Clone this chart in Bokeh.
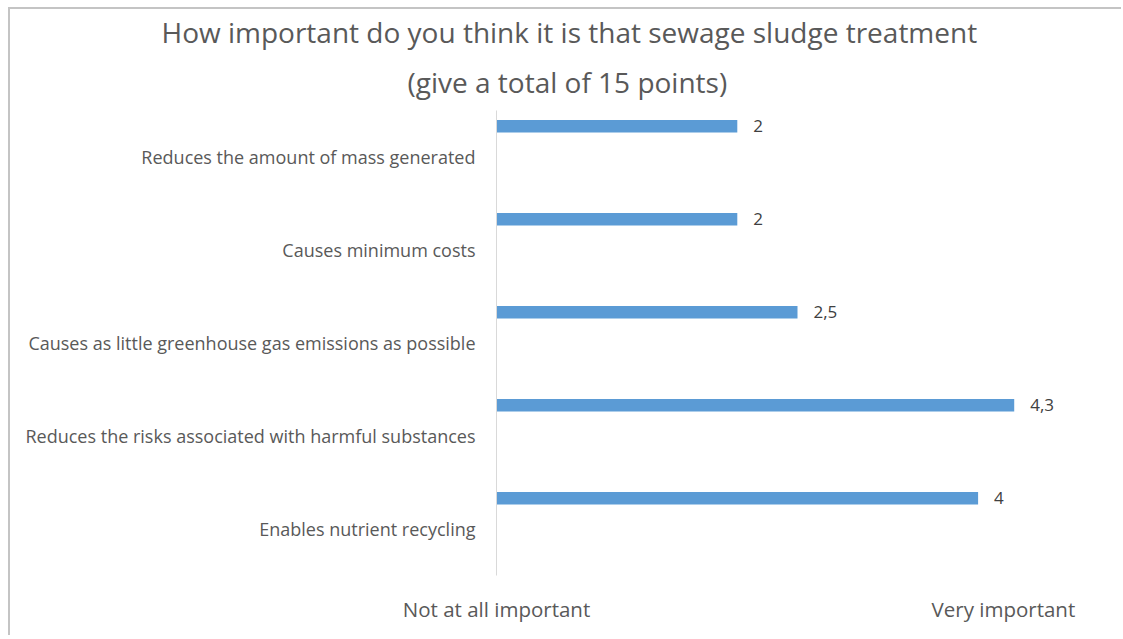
from bokeh.plotting import figure
from bokeh.models import ColumnDataSource, FactorRange, FixedTicker, Title, Range1d
from bokeh.transform import dodge
from bokeh.core.properties import value
from bokeh.embed import file_html
from bokeh.resources import INLINE

title_lines = ["How important do you think it is that sewage sludge treatment",
               "(give a total of 15 points)"]
categories = ["Reduces the amount of mass generated",
              "Causes minimum costs",
              "Causes as little greenhouse gas emissions as possible",
              "Reduces the risks associated with harmful substances",
              "Enables nutrient recycling"]
values = [2, 2, 2.5, 4.3, 4]
value_labels = ["2", "2", "2,5", "4,3", "4"]
scale_ticks = [0, 4.21]
scale_labels = ["Not at all important", "Very important"]

FONT = "Open Sans"
GREY = "#595959"
W, H = 1113, 628

src = ColumnDataSource(dict(cat=categories, val=values, lab=value_labels))

p = figure(width=W, height=H, output_backend="svg", toolbar_location=None,
           y_range=FactorRange(factors=categories[::-1]),
           x_range=Range1d(0, 5),
           min_border_left=486, min_border_right=25, min_border_top=101, min_border_bottom=62,
           title=None)
p.styles = {"border-top": "2px solid #c4c4c4", "border-left": "2px solid #c4c4c4",
            "margin-left": "8px", "margin-top": "7px"}

p.hbar(y=dodge("cat", 0.33, range=p.y_range), right="val", height=0.135, left=0,
       source=src, fill_color="#5b9bd5", line_color=None)
p.text(x="val", y=dodge("cat", 0.33, range=p.y_range), text="lab", source=src,
       x_offset=16, text_baseline="middle", text_align="left",
       text_font=value(FONT), text_font_size="17px", text_color="#404040")

# titles: left-aligned over the frame, shifted left so they are centred on the chart
for line, off, so in zip(reversed(title_lines), [-89, -335], [20, 0]):
    p.add_layout(Title(text=line, align="left", offset=off, standoff=so, text_font=FONT,
                       text_font_size="28px", text_font_style="normal",
                       text_color=GREY), "above")

p.xgrid.visible = False
p.ygrid.visible = False
p.outline_line_color = None
p.background_fill_color = "white"
p.border_fill_color = "white"

yax = p.yaxis[0]
yax.axis_line_color = "#d9d9d9"
yax.axis_line_width = 1
yax.major_tick_line_color = None
yax.minor_tick_line_color = None
yax.major_label_standoff = 15
yax.major_label_text_font = FONT
yax.major_label_text_font_size = "18px"
yax.major_label_text_color = GREY

xax = p.xaxis[0]
xax.ticker = FixedTicker(ticks=scale_ticks)
xax.major_label_overrides = {t: l for t, l in zip(scale_ticks, scale_labels)}
xax.axis_line_color = None
xax.major_tick_line_color = None
xax.minor_tick_line_color = None
xax.major_label_standoff = 13
xax.major_label_text_font = FONT
xax.major_label_text_font_size = "20.5px"
xax.major_label_text_color = GREY

open("out.html", "w").write(file_html(p, INLINE))
